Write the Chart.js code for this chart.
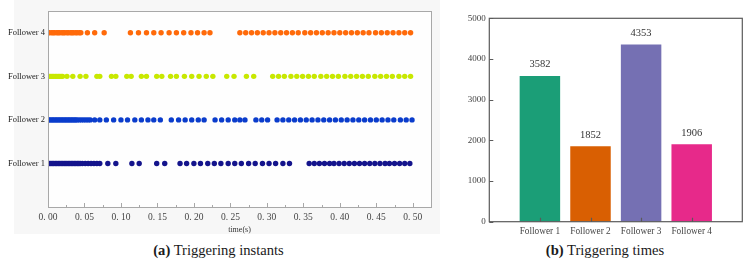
<!DOCTYPE html>
<html>
<head>
<meta charset="utf-8">
<script src="https://cdn.jsdelivr.net/npm/chart.js@4.4.1/dist/chart.umd.min.js"></script>
<style>
	body { margin: 0; background: #fff; width: 752px; height: 262px; position: relative; overflow: hidden; font-family: 'Liberation Serif', 'Times New Roman', 'DejaVu Serif', serif; }
	canvas { position: absolute; top: 0; }
	#leftBg { position: absolute; left: 14px; top: 0; width: 426px; height: 234px; background: #f7f7f7; }
	#left { left: 0; }
	#right { left: 440px; }
	.caption { position: absolute; top: 241px; height: 18px; line-height: 18px; font-size: 14.6px; color: #1a1a1a; text-align: center; }
</style>
</head>
<body>
<div id="leftBg"></div>
<canvas id="left" width="440" height="235"></canvas>
<canvas id="right" width="312" height="240"></canvas>
<div class="caption" style="left:100px;width:237px;"><b>(a)</b> Triggering instants</div>
<div class="caption" style="left:505px;width:200px;"><b>(b)</b> Triggering times</div>
<script>
// (a) triggering instants, seconds
const follower1Times = [0, 0.002, 0.004, 0.006, 0.008, 0.010, 0.012, 0.014, 0.016, 0.018, 0.020, 0.022, 0.024, 0.026, 0.028, 0.030, 0.032, 0.034, 0.036, 0.038, 0.040, 0.042, 0.044,
	0.047, 0.051, 0.055, 0.059, 0.063, 0.067, 0.071, 0.082, 0.093, 0.115, 0.125, 0.149, 0.160,
	0.181, 0.190, 0.200, 0.209, 0.219, 0.228, 0.237, 0.247, 0.256, 0.265, 0.275, 0.284, 0.294, 0.303, 0.312, 0.322, 0.331,
	0.358, 0.365, 0.372, 0.379, 0.386, 0.392, 0.399, 0.406, 0.413, 0.420, 0.427, 0.434, 0.441, 0.448, 0.455, 0.462, 0.468, 0.475, 0.482, 0.489, 0.496];
const follower2Times = [0, 0.002, 0.004, 0.006, 0.008, 0.010, 0.012, 0.014, 0.016, 0.018, 0.020, 0.022, 0.024, 0.026, 0.028, 0.030, 0.032, 0.034, 0.036, 0.038, 0.040,
	0.043, 0.046, 0.049, 0.052, 0.055, 0.058, 0.064, 0.071, 0.080, 0.090, 0.100, 0.109, 0.119, 0.128, 0.137, 0.145, 0.154,
	0.169, 0.179, 0.188, 0.197, 0.206, 0.214, 0.229, 0.238, 0.247, 0.256, 0.263, 0.270, 0.285, 0.293, 0.301,
	0.314, 0.322, 0.330, 0.338, 0.346, 0.354, 0.362, 0.370, 0.378, 0.386, 0.394, 0.402, 0.410, 0.418, 0.426, 0.434, 0.442, 0.450, 0.458, 0.466, 0.474, 0.483, 0.491, 0.499];
const follower3Times = [0, 0.002, 0.004, 0.006, 0.008, 0.010, 0.012, 0.014, 0.016, 0.018, 0.020,
	0.026, 0.034, 0.044, 0.052, 0.067, 0.071, 0.087, 0.093, 0.108, 0.114, 0.128, 0.135, 0.149, 0.156,
	0.168, 0.176, 0.187, 0.197, 0.207, 0.217, 0.226, 0.245, 0.255, 0.272, 0.282,
	0.308, 0.316, 0.324, 0.333, 0.341, 0.349, 0.357, 0.365, 0.374, 0.382, 0.390, 0.398, 0.407, 0.415, 0.423, 0.431, 0.439, 0.448, 0.456, 0.464, 0.472, 0.481, 0.489, 0.497];
const follower4Times = [0, 0.002, 0.005, 0.007, 0.009, 0.012, 0.014, 0.016, 0.019, 0.021, 0.023, 0.026, 0.028, 0.031, 0.033, 0.035, 0.038, 0.040, 0.043, 0.045,
	0.054, 0.064, 0.077, 0.113, 0.124, 0.135, 0.145, 0.155, 0.166, 0.176, 0.186, 0.196, 0.205, 0.214, 0.222,
	0.263, 0.271, 0.279, 0.287, 0.295, 0.303, 0.311, 0.319, 0.327, 0.335, 0.343, 0.352, 0.360, 0.368, 0.376, 0.384, 0.392, 0.400, 0.408, 0.416, 0.424, 0.432, 0.440, 0.449, 0.457, 0.465, 0.473, 0.481, 0.489, 0.497];
const followerColors = ['#14148c', '#0a3ccc', '#c8e800', '#ff6a0a'];

// (b) triggering times
const barCategories = ['Follower 1', 'Follower 2', 'Follower 3', 'Follower 4'];
const triggerCounts = [3582, 1852, 4353, 1906];
const barColors = ['#1b9e77', '#d95f02', '#7570b3', '#e7298a'];

const serif = "'Liberation Serif', 'Times New Roman', 'DejaVu Serif', serif";
const isMajor = (v) => Math.round(v * 1000) % 50 === 0;

const leftFrame = {
	id: 'leftFrame',
	beforeDatasetsDraw: (chart) => {
		const { ctx, chartArea: a } = chart;
		ctx.save();
		ctx.fillStyle = '#fefefe';
		ctx.fillRect(a.left, a.top, a.right - a.left, a.bottom - a.top);
		ctx.restore();
	},
	afterDraw: (chart) => {
		const { ctx, chartArea: a } = chart;
		const x = chart.scales.x;
		ctx.save();
		ctx.strokeStyle = '#a8a8a8';
		ctx.lineWidth = 1;
		ctx.strokeRect(a.left + 0.5, a.top + 0.5, a.right - a.left, a.bottom - a.top);
		ctx.beginPath();
		for (let t of x.ticks) {
			let px = Math.round(x.getPixelForValue(t.value)) + 0.5;
			let len = isMajor(t.value) ? 4 : 2;
			ctx.moveTo(px, a.bottom);
			ctx.lineTo(px, a.bottom - len);
		}
		ctx.stroke();
		ctx.restore();
	},
};

const rightFrame = {
	id: 'rightFrame',
	afterDraw: (chart) => {
		const { ctx, chartArea: a } = chart;
		const x = chart.scales.x;
		const y = chart.scales.y;
		ctx.save();
		ctx.strokeStyle = '#5a5a5a';
		ctx.lineWidth = 1.2;
		ctx.strokeRect(a.left, a.top, a.right - a.left, a.bottom - a.top);
		ctx.beginPath();
		for (let t of y.ticks) {
			let py = Math.round(y.getPixelForValue(t.value)) + 0.5;
			ctx.moveTo(a.left, py);
			ctx.lineTo(a.left + 4, py);
		}
		for (let i = 1; i <= barCategories.length; i++) {
			let px = Math.round(x.getPixelForValue(i)) + 0.5;
			ctx.moveTo(px, a.bottom);
			ctx.lineTo(px, a.bottom - 4);
		}
		ctx.stroke();

		// value labels above the bars
		const meta = chart.getDatasetMeta(0);
		ctx.fillStyle = '#333';
		ctx.font = `10.5px ${serif}`;
		ctx.textAlign = 'center';
		ctx.textBaseline = 'bottom';
		meta.data.forEach((bar, i) => {
			const v = chart.data.datasets[0].data[i];
			if (v == null) return;
			ctx.fillText(String(v), bar.x, bar.y - 6);
		});
		ctx.restore();
	},
};

const dotSet = (times, level, color) => ({
	data: times.map((t) => ({ x: t, y: level })),
	backgroundColor: color,
	borderWidth: 0,
	pointRadius: 2.7,
	pointHoverRadius: 2.7,
});

new Chart(document.getElementById('left'), {
	type: 'scatter',
	data: {
		datasets: [
			dotSet(follower1Times, 1, followerColors[0]),
			dotSet(follower2Times, 2, followerColors[1]),
			dotSet(follower3Times, 3, followerColors[2]),
			dotSet(follower4Times, 4, followerColors[3]),
		],
	},
	options: {
		responsive: false,
		animation: false,
		layout: { padding: { top: 11, right: 9, left: 0, bottom: 0 } },
		plugins: { legend: { display: false }, tooltip: { enabled: false } },
		scales: {
			x: {
				type: 'linear',
				min: 0,
				max: 0.525,
				grid: { display: false, drawTicks: false },
				border: { display: false },
				ticks: {
					stepSize: 0.025,
					includeBounds: false,
					autoSkip: false,
					maxRotation: 0,
					padding: 5,
					color: '#444',
					font: { family: serif, size: 9.5 },
					callback: (v) => (isMajor(v) ? v.toFixed(2).replace('.', '. ') : ''),
				},
				title: { display: true, text: 'time(s)', color: '#333', font: { family: serif, size: 8 }, padding: { top: 0, bottom: 0 } },
				afterFit: (s) => {
					s.height = 28;
				},
			},
			y: {
				min: 0,
				max: 4.5,
				grid: { display: false, drawTicks: false },
				border: { display: false },
				ticks: {
					stepSize: 1,
					padding: 3,
					color: '#222',
					font: { family: serif, size: 8.5 },
					callback: (v) => (v >= 1 && v <= 4 ? 'Follower ' + v : ''),
				},
				afterFit: (s) => {
					s.width = 48;
				},
			},
		},
	},
	plugins: [leftFrame],
});

new Chart(document.getElementById('right'), {
	type: 'bar',
	data: {
		labels: ['', ...barCategories, ''],
		datasets: [
			{
				data: [null, ...triggerCounts, null],
				backgroundColor: ['#fff', ...barColors, '#fff'],
				borderWidth: 0,
				categoryPercentage: 1,
				barPercentage: 0.8,
			},
		],
	},
	options: {
		responsive: false,
		animation: false,
		layout: { padding: { top: 18.3, right: 9.7, left: 0, bottom: 0 } },
		plugins: { legend: { display: false }, tooltip: { enabled: false } },
		scales: {
			x: {
				type: 'category',
				offset: false,
				grid: { display: false, drawTicks: false },
				border: { display: false },
				ticks: { autoSkip: false, maxRotation: 0, padding: 4, color: '#444', font: { family: serif, size: 9.3 } },
				afterFit: (s) => {
					s.height = 18.3;
				},
			},
			y: {
				min: 0,
				max: 5000,
				grid: { display: false, drawTicks: false },
				border: { display: false },
				ticks: { stepSize: 1000, padding: 3.5, color: '#444', font: { family: serif, size: 9 }, callback: (v) => String(v) },
				afterFit: (s) => {
					s.width = 49.3;
				},
			},
		},
	},
	plugins: [rightFrame],
});
</script>
</body>
</html>
